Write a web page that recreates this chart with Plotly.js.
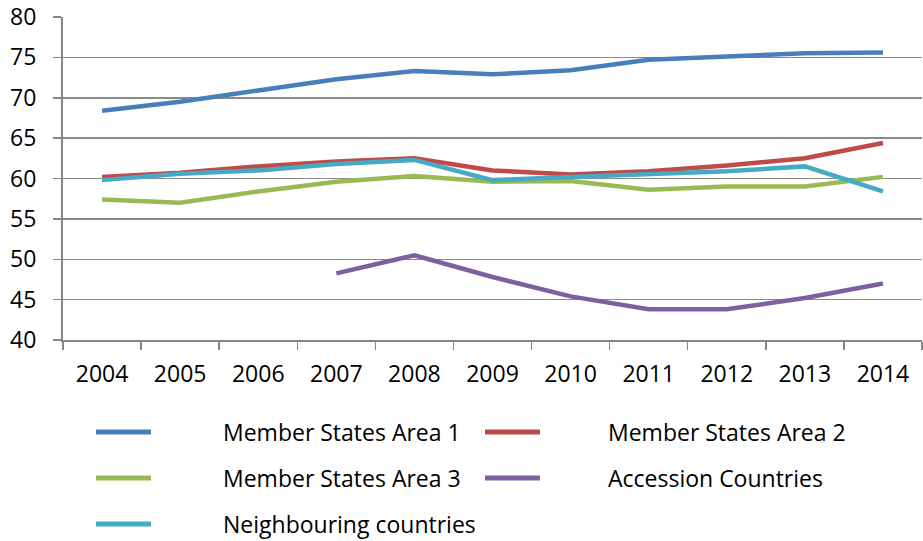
<!DOCTYPE html>
<html><head><meta charset="utf-8">
<script src="https://cdn.plot.ly/plotly-3.0.1.min.js"></script>
<style>html,body{margin:0;padding:0;background:#fff}#chart{width:923px;height:541px}</style>
</head><body><div id="chart"></div>
<script>
const years = ["2004","2005","2006","2007","2008","2009","2010","2011","2012","2013","2014"];
const seriesNames = ["Member States Area 1","Member States Area 2","Member States Area 3","Accession Countries","Neighbouring countries"];
const area1 = [68.4, 69.5, 70.9, 72.3, 73.3, 72.9, 73.4, 74.7, 75.1, 75.5, 75.6];
const area2 = [60.2, 60.7, 61.5, 62.1, 62.5, 61.0, 60.5, 60.9, 61.6, 62.5, 64.4];
const area3 = [57.4, 57.0, 58.4, 59.6, 60.3, 59.6, 59.7, 58.6, 59.0, 59.0, 60.2];
const accession = [null, null, null, 48.25, 50.5, 47.8, 45.4, 43.8, 43.8, 45.2, 47.0];
const neighbouring = [59.8, 60.6, 61.0, 61.8, 62.3, 59.8, 60.2, 60.6, 60.9, 61.5, 58.4];
const colors = ["#4A7EBB","#BE4B48","#98B954","#7D60A0","#46AAC5"];
const yTicks = [40,45,50,55,60,65,70,75,80];

const allValues = [area1, area2, area3, accession, neighbouring];
const FONT = "Open Sans, Noto Sans, sans-serif";
const FS = 23;

const traces = allValues.map((v, i) => ({
  x: years, y: v, name: seriesNames[i], type: "scatter", mode: "lines",
  line: {color: colors[i], width: 4.5}, connectgaps: false, showlegend: false
}));

// custom legend placed below the plot (paper coords)
const W = 859, H = 323; // plot area in px
const px2x = p => (p - 63) / W;
const py2y = p => (340 - p) / H;
const legendPos = [
  {sx: 96, tx: 221, y: 432},
  {sx: 485, tx: 606, y: 432},
  {sx: 96, tx: 221, y: 478},
  {sx: 485, tx: 606, y: 478},
  {sx: 96, tx: 221, y: 524}
];
const shapes = [], annotations = [];
seriesNames.forEach((n, i) => {
  const p = legendPos[i];
  shapes.push({type: "line", xref: "paper", yref: "paper",
    x0: px2x(p.sx), x1: px2x(p.sx + 55), y0: py2y(p.y), y1: py2y(p.y),
    line: {color: colors[i], width: 5}});
  annotations.push({xref: "paper", yref: "paper", x: px2x(p.tx), y: py2y(p.y),
    xanchor: "left", yanchor: "middle", text: n, showarrow: false,
    font: {family: FONT, size: FS, color: "#000"}});
});

const layout = {
  width: 923, height: 541,
  margin: {l: 63, r: 1, t: 17, b: 201},
  paper_bgcolor: "#fff", plot_bgcolor: "#fff",
  font: {family: FONT, size: FS, color: "#000"},
  xaxis: {
    type: "category", range: [-0.5, 10.5], tickson: "boundaries", ticks: "outside", ticklen: 8,
    tickcolor: "#868686", tickwidth: 1.5, showline: true, linecolor: "#868686", linewidth: 2,
    showgrid: false, zeroline: false, ticklabelstandoff: 12,
    tickfont: {family: FONT, size: FS, color: "#000"}, fixedrange: true
  },
  yaxis: {
    range: [40, 80], tickvals: yTicks, ticktext: yTicks.map(String),
    ticks: "outside", ticklen: 8, tickcolor: "#868686", tickwidth: 1.5,
    showline: true, linecolor: "#868686", linewidth: 2,
    showgrid: true, gridcolor: "#8a8a8a", gridwidth: 1.5, zeroline: false,
    ticklabelstandoff: 12, tickfont: {family: FONT, size: FS, color: "#000"}, fixedrange: true
  },
  shapes: shapes, annotations: annotations, showlegend: false
};
Plotly.newPlot("chart", traces, layout, {displayModeBar: false, staticPlot: true});
</script></body></html>
